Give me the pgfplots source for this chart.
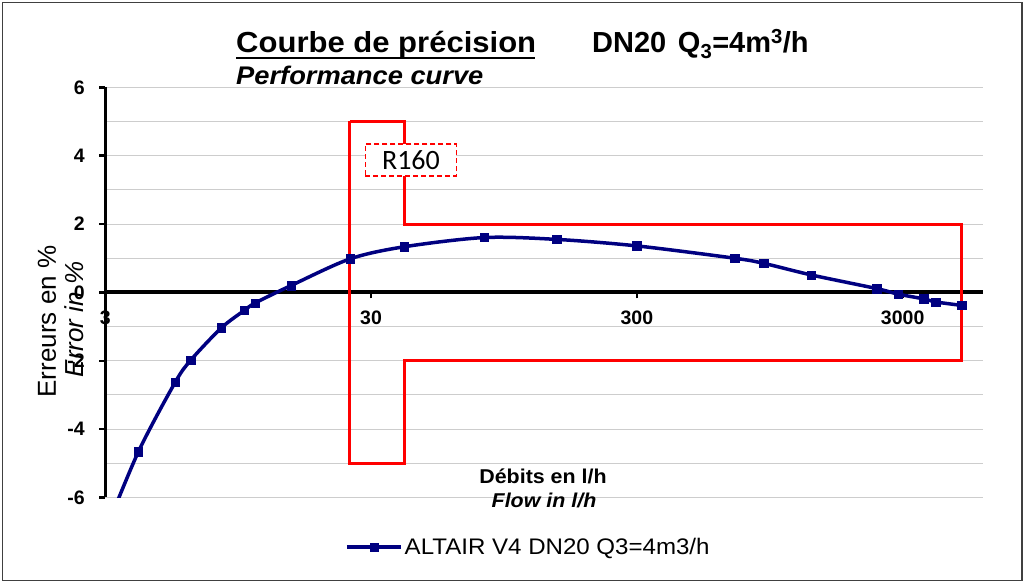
\documentclass[border=0pt]{standalone}
\usepackage{fontspec}
\setmainfont{Liberation Sans}
\newfontfamily\calfont{Carlito}
\usepackage{graphicx}
\usepackage{pgfplots}
\pgfplotsset{compat=1.18}
\definecolor{navy}{RGB}{0,0,128}
\definecolor{gridgray}{RGB}{205,205,205}
\newcommand\hs[1]{\scalebox{1.07}[1]{#1}}
\begin{document}
\begin{tikzpicture}[x=1pt,y=1pt]
\useasboundingbox (0,0) rectangle (1025,583);
\draw[black!75, line width=1.2pt] (2.5,2.5) rectangle (1022,580.5);
\begin{axis}[
  at={(105.2pt,85.5pt)}, anchor=south west,
  scale only axis, width=877.5pt, height=410.2pt,
  xmode=log, xmin=3, xmax=6000, ymin=-6, ymax=6,
  axis x line*=middle, axis y line*=left,
  hide obscured x ticks=false, hide obscured y ticks=false,
  axis line style={black, line width=3pt},
  x axis line style={line width=4pt},
  xtick={3,30,300,3000}, xticklabels={3,30,300,3000},
  xminorticks=false,
  ytick={-6,-4,-2,0,2,4,6}, yticklabels={-6,-4,-2,0,2,4,6},
  minor ytick={-5,-3,-1,1,3,5},
  ymajorgrids, yminorgrids,
  grid style={gridgray, line width=1pt},
  minor grid style={gridgray, line width=1pt},
  tick align=outside,
  major tick length=6pt, minor tick length=0pt,
  ytick style={black, line width=2.5pt},
  xtick style={black, line width=2pt},
  x tick label style={font=\bfseries\fontsize{19.5}{20}\selectfont, yshift=-9pt},
  y tick label style={font=\bfseries\fontsize{19.5}{20}\selectfont, xshift=-11pt},
  legend style={at={(0.2733,-0.1207)}, anchor=west, draw=none, fill=none,
    font=\fontsize{22.5}{24}\selectfont, inner sep=0pt,
    nodes={inner xsep=2pt, inner ysep=0pt}},
  legend image code/.code={
    \draw[#1, mark repeat=2, mark phase=2] plot coordinates {(0pt,0pt) (27pt,0pt) (54pt,0pt)};},
  clip=true,
]
\addplot[navy, line width=3.5pt, smooth, mark=square*, mark size=4.2pt,
  mark options={solid, line width=0.5pt}] coordinates {
  (3,-7.0) (4.0,-4.66) (5.5,-2.63) (6.3,-1.98) (8.2,-1.04) (10,-0.53)
  (11,-0.31) (15,0.20) (25,0.98) (40,1.335) (80,1.605) (150,1.55)
  (300,1.36) (700,1.00) (900,0.85) (1360,0.51) (2400,0.11) (2880,-0.05)
  (3600,-0.19) (4000,-0.28) (5000,-0.38)};
\addlegendentry{\hs{ALTAIR V4 DN20 Q3=4m3/h}}
\addplot[red, line width=3pt, sharp plot, no marks, forget plot] coordinates {
  (25,5) (40,5) (40,2) (5000,2) (5000,-2) (40,-2) (40,-5) (25,-5) (25,5)};
\node[draw=red, dashed, dash pattern=on 5pt off 3pt, line width=1.8pt, fill=white,
  minimum width=91pt, minimum height=32pt, inner sep=0pt,
  font=\calfont\fontsize{28}{30}\selectfont] at (axis cs:42.4,3.87) {R160};
\end{axis}
\node[anchor=base west, inner sep=0pt, font=\bfseries\fontsize{29}{31}\selectfont] at (236,530) {\hs{Courbe de précision}};
\draw[line width=2.4pt] (236,525) -- (535,525);
\node[anchor=base west, inner sep=0pt, font=\bfseries\fontsize{29}{31}\selectfont] at (592,530) {DN20\hspace{0.4em}Q\textsubscript{3}=4m\textsuperscript{3}/h};
\node[anchor=base west, inner sep=0pt, font=\bfseries\itshape\fontsize{25.5}{28}\selectfont] at (236,498) {\hs{Performance curve}};
\node[rotate=90, font=\fontsize{26}{28}\selectfont] at (47,261.5) {Erreurs en \%};
\node[rotate=90, font=\itshape\fontsize{26}{28}\selectfont] at (74,263.5) {Error in \%};
\node[font=\bfseries\fontsize{20}{22}\selectfont] at (543,107) {\hs{Débits en l/h}};
\node[font=\bfseries\itshape\fontsize{20}{22}\selectfont] at (544,83) {\hs{Flow in l/h}};
\end{tikzpicture}
\end{document}
